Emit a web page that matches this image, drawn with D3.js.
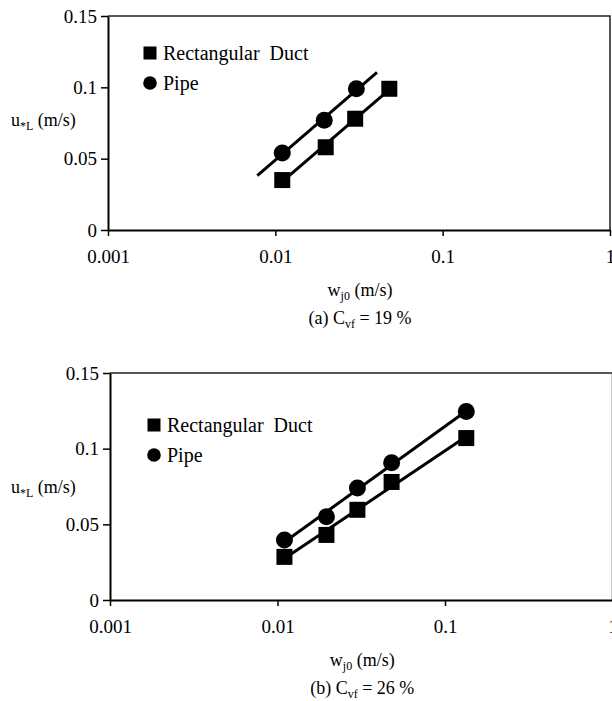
<!DOCTYPE html>
<meta charset="utf-8">
<head>
  <title>u*L vs wj0</title>
  <style>
    body { margin: 0; background: #fff; }
    svg text { font-family: "Liberation Serif", Tinos, "Times New Roman", "Nimbus Roman", "DejaVu Serif", serif; fill: #000; }
  </style>
</head>
<body>
<svg id="chart" width="612" height="701"></svg>

<script src="https://d3js.org/d3.v7.min.js"></script>
<script>
// axis ticks
var xTicks = [0.001, 0.01, 0.1, 1]
var xTickLabels = ["0.001", "0.01", "0.1", "1"]
var yTicks = [0, 0.05, 0.1, 0.15]
var yTickLabels = ["0", "0.05", "0.1", "0.15"]
var seriesNames = ["Rectangular  Duct", "Pipe"]

// (a) Cvf = 19 %
var wDuctA = [0.011, 0.02, 0.03, 0.048]
var ductA = [0.035, 0.058, 0.078, 0.099]
var wPipeA = [0.011, 0.0196, 0.0305]
var pipeA = [0.054, 0.077, 0.099]
var ductTrendA = [0.011, 0.048]
var pipeTrendA = [0.0078, 0.0405]

// (b) Cvf = 26 %
var wB = [0.011, 0.0196, 0.03, 0.048, 0.134]
var ductB = [0.0285, 0.043, 0.0596, 0.078, 0.107]
var pipeB = [0.0397, 0.055, 0.074, 0.0907, 0.1245]
var ductTrendB = [0.011, 0.134]
var pipeTrendB = [0.011, 0.134]

var serif = '"Liberation Serif", Tinos, "Times New Roman", "Nimbus Roman", "DejaVu Serif", serif'
var svg = d3.select("#chart")

// least squares fit of y on log10(x), like the spreadsheet trendline
function logFit(xs, ys) {
  let lx = xs.map(d => Math.log10(d))
  let mx = d3.mean(lx), my = d3.mean(ys)
  let sxy = d3.sum(lx, (d, i) => (d - mx) * (ys[i] - my))
  let sxx = d3.sum(lx, d => (d - mx) * (d - mx))
  let b = sxy / sxx, a = my - b * mx
  return x => a + b * Math.log10(x)
}

function drawPanel(p) {
  let g = svg.append("g").attr("name", p.name)

  let x = d3.scaleLog().domain([0.001, 1]).range([p.left, p.right])
  let y = d3.scaleLinear().domain([0, 0.15]).range([p.bottom, p.top])

  // frame: top and right edges
  g.append("path")
    .attr("d", `M${p.left},${p.top}H${p.right}V${p.bottom}`)
    .attr("fill", "none").attr("stroke", "#222").attr("stroke-width", 1.5)

  g.append("g")
    .attr("transform", `translate(0,${p.bottom})`)
    .call(d3.axisBottom(x).tickValues(xTicks)
      .tickFormat((d, i) => xTickLabels[i]).tickSize(6).tickSizeOuter(0).tickPadding(14))
  g.append("g")
    .attr("transform", `translate(${p.left},0)`)
    .call(d3.axisLeft(y).tickValues(yTicks)
      .tickFormat((d, i) => yTickLabels[i]).tickSize(7).tickSizeOuter(0).tickPadding(4))

  g.selectAll("g").attr("font-family", serif).attr("font-size", 19)
  g.selectAll(".domain").attr("stroke", "#000").attr("stroke-width", 2)
  g.selectAll(".tick line").attr("stroke", "#000").attr("stroke-width", 1.5)

  // trendlines
  let fits = [
    {xs: p.wDuct, ys: p.duct, range: p.ductTrend},
    {xs: p.wPipe, ys: p.pipe, range: p.pipeTrend}
  ]
  fits.forEach(f => {
    let fn = logFit(f.xs, f.ys)
    g.append("line")
      .attr("x1", x(f.range[0])).attr("y1", y(fn(f.range[0])))
      .attr("x2", x(f.range[1])).attr("y2", y(fn(f.range[1])))
      .attr("stroke", "#000").attr("stroke-width", 3)
  })

  // markers
  g.selectAll(".sq").data(p.duct).enter().append("rect")
    .attr("x", (d, i) => x(p.wDuct[i]) - 8)
    .attr("y", d => y(d) - 8)
    .attr("width", 16).attr("height", 16)
    .attr("fill", "#000")
  g.selectAll(".ci").data(p.pipe).enter().append("circle")
    .attr("cx", (d, i) => x(p.wPipe[i]))
    .attr("cy", d => y(d))
    .attr("r", 8.5)
    .attr("fill", "#000")

  // legend
  let lg = g.append("g").attr("transform", `translate(${p.legX},${p.legY})`)
  lg.append("rect").attr("x", -6.5).attr("y", -6.5).attr("width", 13).attr("height", 13).attr("fill", "#000")
  lg.append("circle").attr("cx", 0).attr("cy", 30).attr("r", 6.8).attr("fill", "#000")
  lg.selectAll("text").data(seriesNames).enter().append("text")
    .attr("x", 13).attr("y", (d, i) => i * 30 + 7)
    .attr("font-family", serif)
    .style("font-size", "20px")
    .style("white-space", "pre")
    .text(d => d)

  // y label  u*L (m/s)
  let yl = g.append("text")
    .attr("x", 11).attr("y", p.yLabelY)
    .attr("font-family", serif)
    .style("font-size", "18px")
  yl.append("tspan").text("u")
  yl.append("tspan").attr("dy", 4).style("font-size", "12px").text("*L")
  yl.append("tspan").attr("dy", -4).text(" (m/s)")

  // x label  wj0 (m/s)
  let cx = (p.left + p.right) / 2 + 1
  let xl = g.append("text")
    .attr("x", cx).attr("y", p.bottom + 66)
    .attr("text-anchor", "middle")
    .attr("font-family", serif)
    .style("font-size", "18px")
  xl.append("tspan").text("w")
  xl.append("tspan").attr("dy", 4).style("font-size", "12px").text("j0")
  xl.append("tspan").attr("dy", -4).text(" (m/s)")

  // caption
  let cap = g.append("text")
    .attr("x", cx).attr("y", p.bottom + 94)
    .attr("text-anchor", "middle")
    .attr("font-family", serif)
    .style("font-size", "18px")
  cap.append("tspan").text(p.tag + " C")
  cap.append("tspan").attr("dy", 4).style("font-size", "12px").text("vf")
  cap.append("tspan").attr("dy", -4).text(" = " + p.cvf)
}

drawPanel({
  name: "panel_a", tag: "(a)", cvf: "19 %",
  left: 108, right: 610, top: 16, bottom: 230,
  wDuct: wDuctA, duct: ductA, wPipe: wPipeA, pipe: pipeA,
  ductTrend: ductTrendA, pipeTrend: pipeTrendA,
  legX: 150, legY: 53, yLabelY: 126
})

drawPanel({
  name: "panel_b", tag: "(b)", cvf: "26 %",
  left: 110, right: 612.5, top: 373, bottom: 600,
  wDuct: wB, duct: ductB, wPipe: wB, pipe: pipeB,
  ductTrend: ductTrendB, pipeTrend: pipeTrendB,
  legX: 154, legY: 425, yLabelY: 493
})
</script>
</body>
